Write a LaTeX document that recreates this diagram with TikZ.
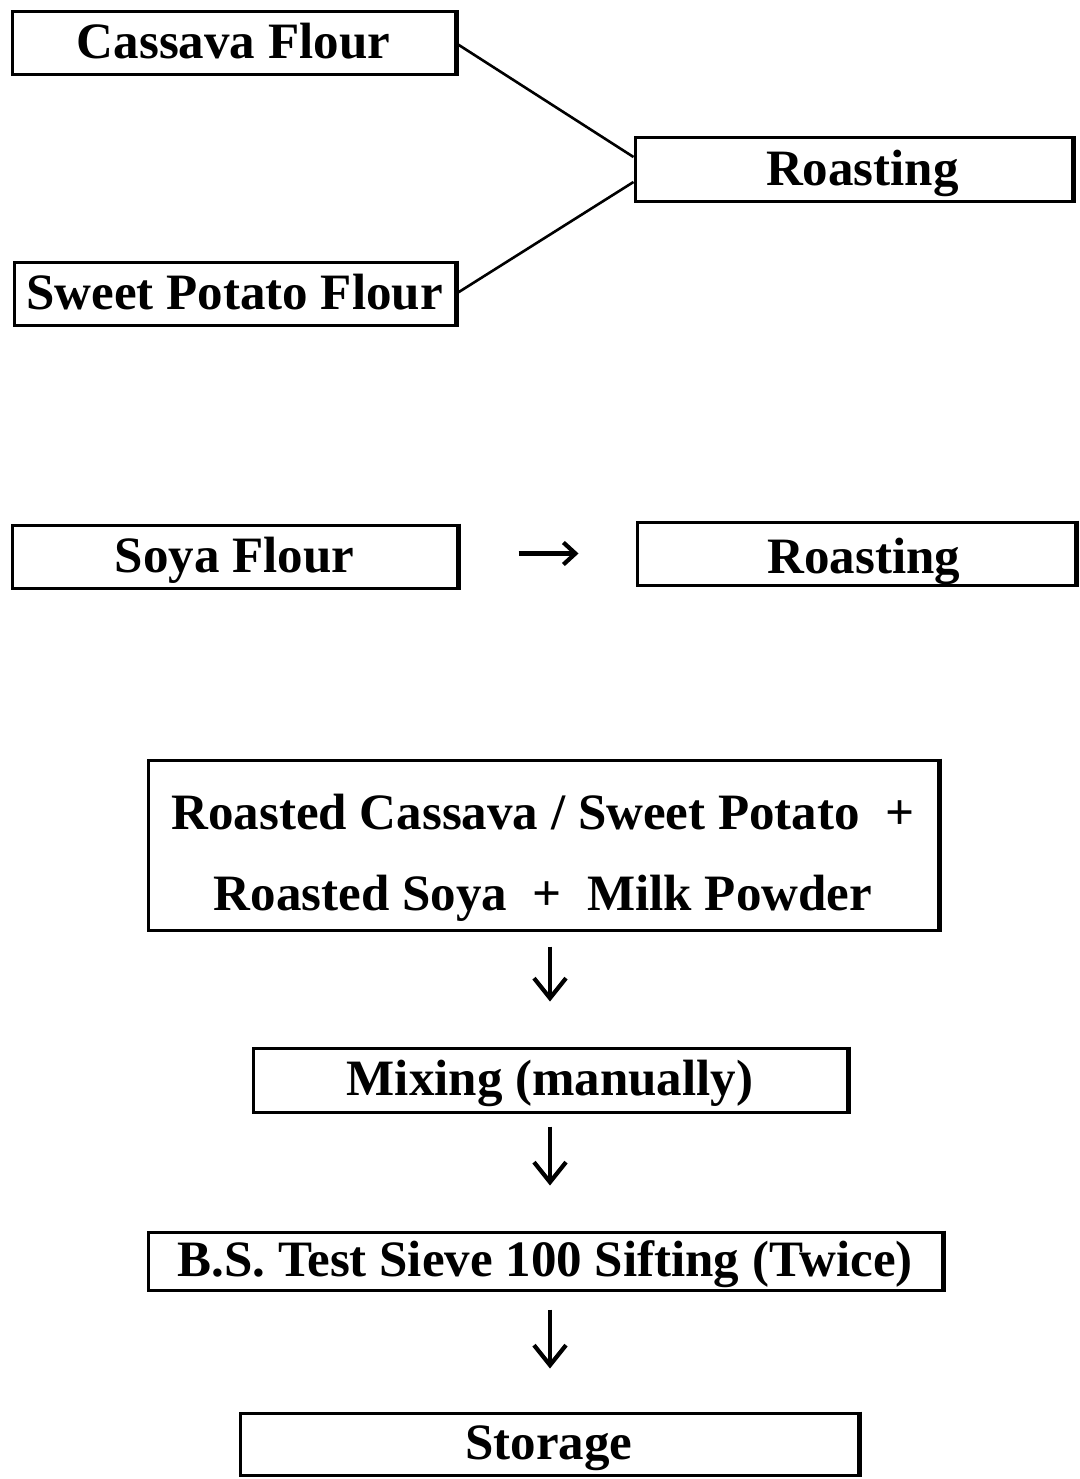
\documentclass[tikz,border=0pt]{standalone}
\usepackage{fontspec}
\setmainfont{Liberation Serif}
\usetikzlibrary{arrows.meta}
\begin{document}
\begin{tikzpicture}[x=1pt,y=-1pt,
  box/.style={draw, line width=3pt, inner sep=0pt, text height=40pt, text depth=9pt,
    font=\fontsize{51}{61}\selectfont\bfseries},
  link/.style={line width=2.6pt},
  downarrow/.style={line width=4.5pt, -{Straight Barb[length=20pt,width=32pt,line width=4.2pt]}},
  sidearrow/.style={line width=4.5pt, -{Straight Barb[length=12pt,width=22pt,line width=4.2pt]}}]
\useasboundingbox (0,0) rectangle (1079,1479);
\node[box, minimum width=443pt, minimum height=63pt] (cassava) at (233.5,43.5) {Cassava Flour};
\node[box, minimum width=441pt, minimum height=63pt] (sweet) at (234.5,293.5) {Sweet Potato Flour};
\node[box, minimum width=437pt, minimum height=64pt] (roastA) at (853.5,170) {\hspace*{18pt}Roasting};
\node[box, minimum width=445pt, minimum height=63pt] (soya) at (234.5,556.5) {Soya Flour};
\node[box, minimum width=438pt, minimum height=63pt, text height=46pt, text depth=6pt] (roastB) at (856,553.5) {\hspace*{16pt}Roasting};
\node[box, minimum width=790pt, minimum height=170pt, align=center, text height=, text depth=,
  font=\fontsize{51}{81}\selectfont\bfseries] (mix) at (543,845)
  {\rule{0pt}{60pt}Roasted Cassava / Sweet Potato\ \ +\\Roasted Soya\ \ +\ \ Milk Powder};
\node[box, minimum width=594pt, minimum height=64pt] (mixing) at (550,1080) {Mixing (manually)};
\node[box, minimum width=794pt, minimum height=58pt] (sieve) at (545,1261) {B.S. Test Sieve 100 Sifting (Twice)};
\node[box, minimum width=618pt, minimum height=62pt] (storage) at (549,1444) {Storage};
% heavier right edges
\foreach \n in {cassava,sweet,roastA,soya,roastB,mix,mixing,sieve,storage}
  \draw[line width=5pt] (\n.north east) -- (\n.south east);
% connectors
\draw[link] (cassava.east) -- ([yshift=13pt]roastA.west);
\draw[link] (sweet.east) -- ([yshift=-12pt]roastA.west);
\draw[sidearrow, shorten <=60pt, shorten >=57pt] (soya.east |- roastB.west) -- (roastB.west);
\draw[downarrow, shorten <=15pt, shorten >=45pt] (mix.south -| mixing.south) -- (mixing.north);
\draw[downarrow, shorten <=13pt, shorten >=45pt] (mixing.south) -- (mixing.south |- sieve.north);
\draw[downarrow, shorten <=18pt, shorten >=43pt] (mixing.south |- sieve.south) -- (mixing.south |- storage.north);
\end{tikzpicture}
\end{document}
